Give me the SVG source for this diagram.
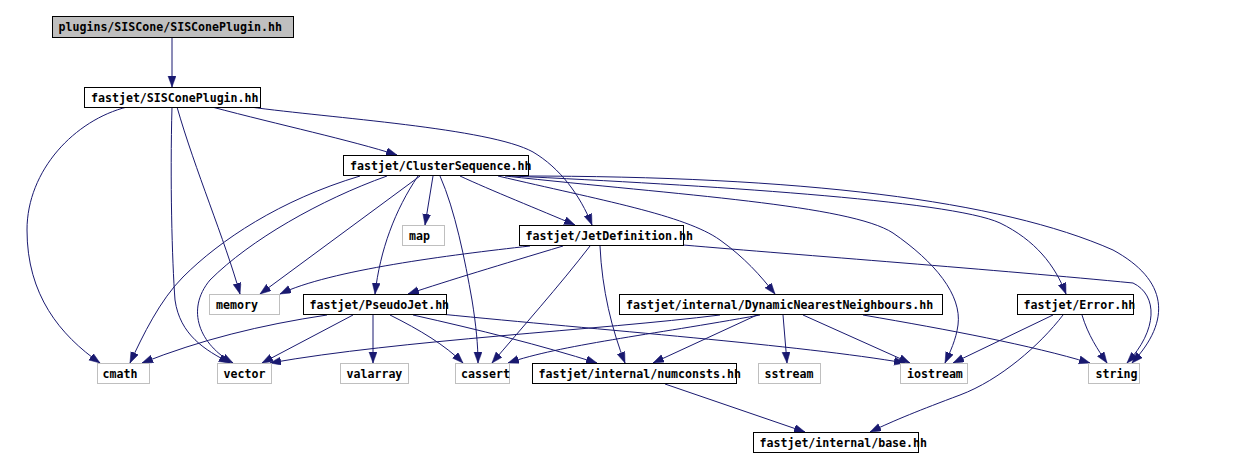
<svg xmlns="http://www.w3.org/2000/svg" width="1238" height="470" viewBox="0 0 1238 470">
<style>
.n rect{fill:#fff;stroke:#000;stroke-width:1}
.n.g rect{stroke:#bfbfbf}
.n.r rect{fill:#bfbfbf}
.n text{font-family:"DejaVu Sans Mono","Liberation Mono",monospace;font-weight:bold;font-size:11.6px;fill:#000}
#edges path{fill:none;stroke:#191970;stroke-width:1;marker-end:url(#a)}
</style>
<defs>
<marker id="a" markerWidth="12" markerHeight="9" refX="11" refY="4" orient="auto" markerUnits="userSpaceOnUse">
<path d="M0,0 L11,4 L0,8 z" fill="#191970" stroke="#191970" stroke-width="0.5"/>
</marker>
</defs>
<rect width="1238" height="470" fill="#fff"/>
<g id="edges">
<path d="M172,37 L172,87"/>
<path d="M127,107 C75,120 27,170 27,230 C27,295 60,335 100,363"/>
<path d="M172,107 C170,180 172,260 175,300 C180,335 205,350 230,363"/>
<path d="M177,107 C195,170 225,240 240,294"/>
<path d="M212,107 C280,125 350,140 397,155"/>
<path d="M250,107 C330,118 490,128 533,152 C560,168 580,195 592,225"/>
<path d="M360,176 C280,200 220,240 183,277 C160,300 143,335 130,363"/>
<path d="M387,176 C320,200 250,240 210,280 C185,310 200,345 233,363"/>
<path d="M420,176 L260,294"/>
<path d="M418,176 C395,210 380,250 375,294"/>
<path d="M433,176 L425,225"/>
<path d="M440,176 C455,210 465,260 472,300 C476,325 478,345 478,363"/>
<path d="M460,176 C490,190 540,210 575,225"/>
<path d="M498,176 C600,200 685,215 720,240 C745,258 760,275 775,294"/>
<path d="M505,176 C680,195 850,205 893,233 C935,262 962,295 958,325 C956,340 950,352 945,363"/>
<path d="M512,176 C700,185 950,200 1000,223 C1035,240 1055,265 1066,294"/>
<path d="M520,176 C800,176 1000,200 1113,250 C1168,280 1172,320 1132,363"/>
<path d="M530,246 C450,255 330,270 280,294"/>
<path d="M563,246 C500,265 450,280 408,294"/>
<path d="M590,246 C560,285 520,330 492,363"/>
<path d="M600,246 C602,290 612,330 625,363"/>
<path d="M683,245 C800,255 1000,270 1133,283 C1158,295 1158,330 1127,363"/>
<path d="M327,315 C260,325 200,340 142,363"/>
<path d="M353,315 L262,363"/>
<path d="M373,315 L373,363"/>
<path d="M390,315 C420,330 445,345 463,363"/>
<path d="M413,315 C480,330 540,345 597,363"/>
<path d="M440,314 C600,330 800,345 905,363"/>
<path d="M720,315 C600,330 400,340 270,363"/>
<path d="M760,315 C650,335 560,345 508,363"/>
<path d="M757,315 L653,363"/>
<path d="M783,315 L787,363"/>
<path d="M803,315 L910,363"/>
<path d="M863,315 C950,330 1030,345 1090,363"/>
<path d="M1053,315 L953,363"/>
<path d="M1063,315 C1040,345 1000,380 960,395 C920,410 895,420 870,432"/>
<path d="M1082,315 C1088,335 1098,350 1107,363"/>
<path d="M665,384 L805,432"/>
</g>
<g id="n0" class="n r"><rect x="52.5" y="16.5" width="241" height="21"/><text x="58.5" y="31">plugins/SISCone/SISConePlugin.hh</text></g>
<g id="n1" class="n"><rect x="84.5" y="87.5" width="176" height="20"/><text x="91" y="102">fastjet/SISConePlugin.hh</text></g>
<g id="n2" class="n"><rect x="343.5" y="155.5" width="185" height="20"/><text x="350" y="170">fastjet/ClusterSequence.hh</text></g>
<g id="n3" class="n g"><rect x="402.5" y="225.5" width="42" height="20"/><text x="409" y="240">map</text></g>
<g id="n4" class="n"><rect x="519.5" y="225.5" width="164" height="20"/><text x="525.5" y="240">fastjet/JetDefinition.hh</text></g>
<g id="n5" class="n g"><rect x="209.5" y="294.5" width="70" height="20"/><text x="216" y="309">memory</text></g>
<g id="n6" class="n"><rect x="303.5" y="294.5" width="143" height="20"/><text x="309.5" y="309">fastjet/PseudoJet.hh</text></g>
<g id="n7" class="n"><rect x="619.5" y="294.5" width="323" height="20"/><text x="626" y="309">fastjet/internal/DynamicNearestNeighbours.hh</text></g>
<g id="n8" class="n"><rect x="1017.5" y="294.5" width="116" height="20"/><text x="1023.5" y="309">fastjet/Error.hh</text></g>
<g id="n9" class="n g"><rect x="97.5" y="363.5" width="52" height="20"/><text x="102.5" y="378">cmath</text></g>
<g id="n10" class="n g"><rect x="217.5" y="363.5" width="54" height="20"/><text x="223.5" y="378">vector</text></g>
<g id="n11" class="n g"><rect x="340.5" y="363.5" width="68" height="20"/><text x="346.5" y="378">valarray</text></g>
<g id="n12" class="n g"><rect x="455.5" y="363.5" width="54" height="20"/><text x="461" y="378">cassert</text></g>
<g id="n13" class="n"><rect x="532.5" y="363.5" width="204" height="20"/><text x="538.5" y="378">fastjet/internal/numconsts.hh</text></g>
<g id="n14" class="n g"><rect x="758.5" y="363.5" width="62" height="20"/><text x="764.5" y="378">sstream</text></g>
<g id="n15" class="n g"><rect x="900.5" y="363.5" width="67" height="20"/><text x="907" y="378">iostream</text></g>
<g id="n16" class="n g"><rect x="1088.5" y="363.5" width="51" height="20"/><text x="1095.5" y="378">string</text></g>
<g id="n17" class="n"><rect x="753.5" y="432.5" width="165" height="20"/><text x="759.5" y="447">fastjet/internal/base.hh</text></g>
</svg>
